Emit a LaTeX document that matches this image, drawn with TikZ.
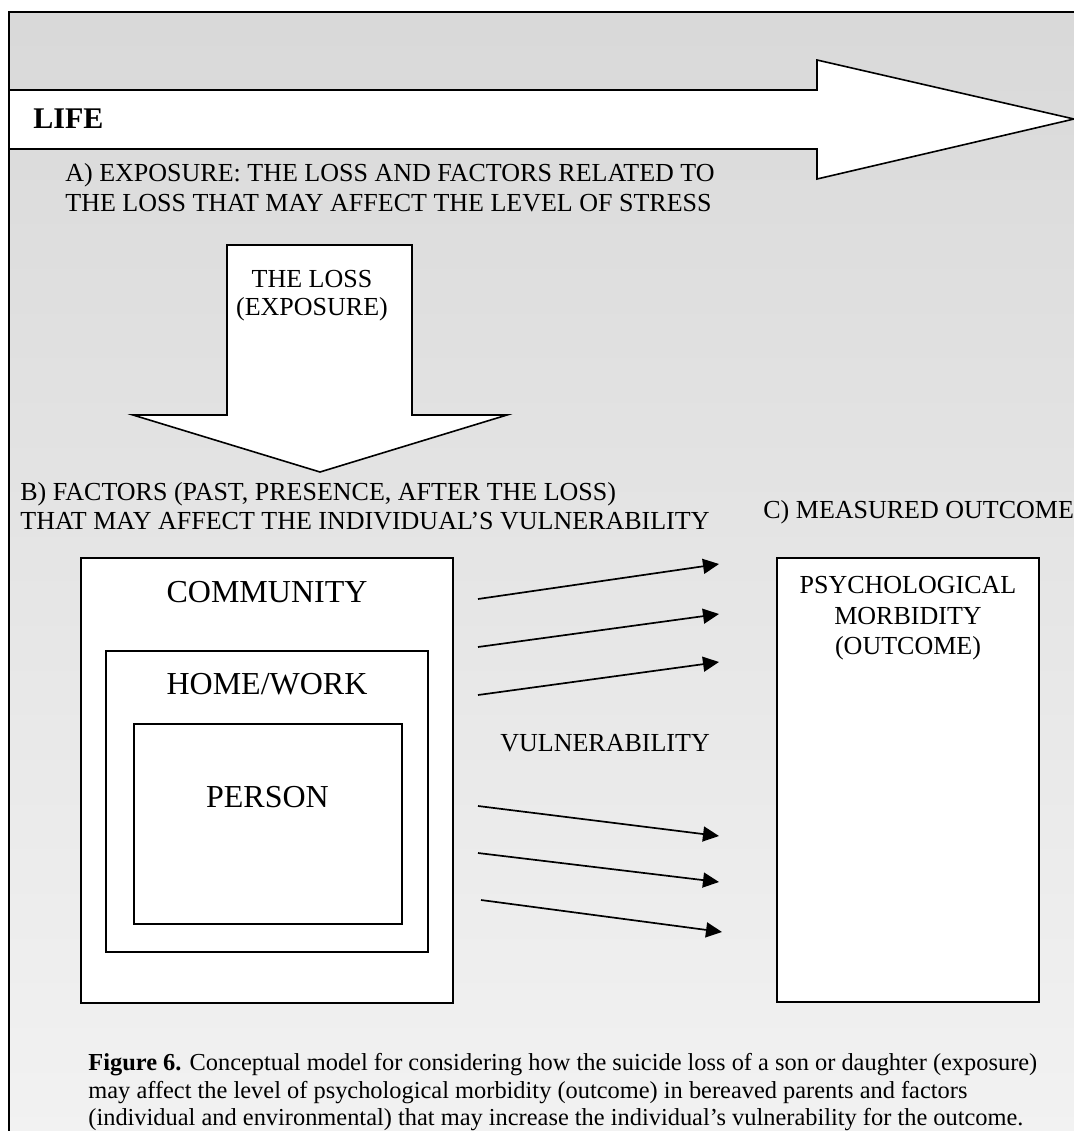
\documentclass[tikz,border=0pt]{standalone}
\usepackage{fontspec}
\setmainfont{Liberation Serif}
\usetikzlibrary{arrows.meta}
\begin{document}
\begin{tikzpicture}[x=0.5pt,y=-0.5pt,
  lbl/.style={inner sep=0pt, font=\fontsize{13}{15.5}\selectfont},
  biglbl/.style={inner sep=0pt, font=\fontsize{16}{19}\selectfont},
  capt/.style={inner sep=0pt, font=\fontsize{12.2}{14.7}\selectfont},
  boxln/.style={draw=black, line width=0.8pt, fill=white},
  vul/.style={line width=0.85pt, -{Triangle[length=8pt,width=7.5pt]}}]
\useasboundingbox (0,0) rectangle (1074,1131);
\begin{scope}
\clip (0,0) rectangle (1074,1131);
% background panel
\shade[top color=gray!30, bottom color=gray!10] (9,12) rectangle (1090,1150);
\draw[line width=0.9pt] (1090,12) -- (9,12) -- (9,1150);
% LIFE arrow
\draw[boxln, line join=miter] (9,90) -- (817,90) -- (817,60) -- (1074,119) -- (817,179) -- (817,149) -- (9,149) -- cycle;
\node[font=\bfseries\fontsize{15}{18}\selectfont, inner sep=0pt, anchor=base west] (life) at (33,128) {LIFE};
% A) exposure
\node[lbl, anchor=base west] (expA1) at (65,181) {A) EXPOSURE: THE LOSS AND FACTORS RELATED TO};
\node[lbl, anchor=base west] (expA2) at (65,211) {THE LOSS THAT MAY AFFECT THE LEVEL OF STRESS};
% loss arrow
\draw[boxln] (227,245) -- (412,245) -- (412,415) -- (507,415) -- (320,472) -- (133,415) -- (227,415) -- cycle;
\node[lbl, anchor=base] (loss1) at (312,287) {THE LOSS};
\node[lbl, anchor=base] (loss2) at (312,315) {(EXPOSURE)};
% B) and C) headings
\node[lbl, anchor=base west] (facB1) at (20,500) {B) FACTORS (PAST, PRESENCE, AFTER THE LOSS)};
\node[lbl, anchor=base west] (facB2) at (20,529) {THAT MAY AFFECT THE INDIVIDUAL’S VULNERABILITY};
\node[lbl, anchor=base west] (outC) at (763,518) {C) MEASURED OUTCOME};
% nested boxes
\node[boxln, minimum width=186pt, minimum height=222.5pt] (comm) at (267,780.5) {};
\node[boxln, minimum width=161pt, minimum height=150.5pt] (home) at (267,801.5) {};
\node[boxln, minimum width=134pt, minimum height=100pt] (pers) at (268,824) {};
\node[biglbl, anchor=base] (commT) at (267,602) {COMMUNITY};
\node[biglbl, anchor=base] (homeT) at (267,694) {HOME/WORK};
\node[biglbl, anchor=base] (persT) at (267.5,807) {PERSON};
% outcome box
\node[boxln, minimum width=131pt, minimum height=222pt] (outc) at (908,780) {};
\node[lbl, anchor=base] (psy1) at (908,593) {PSYCHOLOGICAL};
\node[lbl, anchor=base] (psy2) at (908,624) {MORBIDITY};
\node[lbl, anchor=base] (psy3) at (908,654) {(OUTCOME)};
% vulnerability arrows
\node[lbl, anchor=base west] (vulT) at (500,751) {VULNERABILITY};
\coordinate (s1) at (478,599); \coordinate (t1) at (719,564);
\coordinate (s2) at (478,647); \coordinate (t2) at (719,614);
\coordinate (s3) at (478,695); \coordinate (t3) at (719,662);
\coordinate (s4) at (478,806); \coordinate (t4) at (719,836);
\coordinate (s5) at (478,853); \coordinate (t5) at (719,882);
\coordinate (s6) at (481,900); \coordinate (t6) at (722,932);
\foreach \i in {1,...,6} {\draw[vul] (s\i) -- (t\i);}
% caption
\node[capt, anchor=base west] (cap1) at (88,1070) {\textbf{Figure 6.} Conceptual model for considering how the suicide loss of a son or daughter (exposure)};
\node[capt, anchor=base west] (cap2) at (88,1098) {may affect the level of psychological morbidity (outcome) in bereaved parents and factors};
\node[capt, anchor=base west] (cap3) at (88,1125) {(individual and environmental) that may increase the individual’s vulnerability for the outcome.};
\end{scope}
\end{tikzpicture}
\end{document}
